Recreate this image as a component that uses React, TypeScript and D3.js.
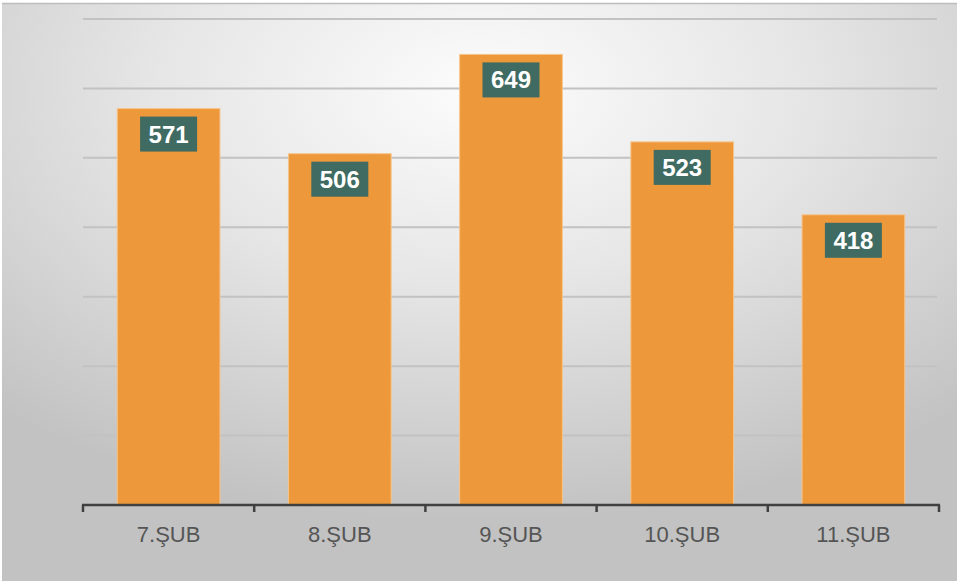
import React from "react";
import * as d3 from "d3";

const categories = ["7.ŞUB", "8.ŞUB", "9.ŞUB", "10.ŞUB", "11.ŞUB"];
const values = [571, 506, 649, 523, 418];
const yTicks = [0, 100, 200, 300, 400, 500, 600, 700];

const W = 960;
const H = 585;
const M = { left: 83, right: 21, top: 19, bottom: 80 };

export default function App() {
  const x = d3
    .scaleBand<string>()
    .domain(categories)
    .range([M.left, W - M.right])
    .paddingInner(0.4)
    .paddingOuter(0.2);
  const y = d3.scaleLinear().domain([0, 700]).range([H - M.bottom, M.top]);
  const y0 = y(0);
  const bounds = categories.map((c) => (x(c) as number) - (x.step() - x.bandwidth()) / 2);
  bounds.push(W - M.right);

  return (
    <svg
      width={W}
      height={H}
      style={{ position: "absolute", left: 0, top: 0, fontFamily: "'Liberation Sans', Arial, sans-serif" }}
    >
      <defs>
        <radialGradient id="bg" cx="50%" cy="15%" r="75%" fx="50%" fy="15%">
          <stop offset="0%" stopColor="#fcfcfc" />
          <stop offset="45%" stopColor="#e6e6e6" />
          <stop offset="100%" stopColor="#c2c2c2" />
        </radialGradient>
      </defs>
      <rect x={0} y={0} width={W} height={H} fill="#ffffff" />
      <rect x={2} y={3} width={955} height={578} fill="url(#bg)" />
      <line x1={2} x2={957} y1={3.5} y2={3.5} stroke="#bdbdbd" strokeWidth={1.5} />
      {yTicks.slice(1).map((t) => (
        <line key={t} x1={M.left} x2={W - M.right - 2} y1={y(t)} y2={y(t)} stroke="#c2c2c2" strokeWidth={2} />
      ))}
      {categories.map((c, i) => {
        const bx = x(c) as number;
        const by = y(values[i]);
        return (
          <g key={c}>
            <rect
              x={bx}
              y={by}
              width={x.bandwidth()}
              height={y0 - by}
              fill="#ED983A"
              stroke="#f6c58c"
              strokeWidth={1}
            />
            <rect x={bx + x.bandwidth() / 2 - 28.5} y={by + 8} width={57} height={35} fill="#3F6B62" />
            <text
              x={bx + x.bandwidth() / 2}
              y={by + 34}
              textAnchor="middle"
              fill="#ffffff"
              fontSize={24}
              fontWeight="bold"
            >
              {values[i]}
            </text>
            <text x={bx + x.bandwidth() / 2} y={542} textAnchor="middle" fill="#555555" fontSize={22}>
              {c}
            </text>
          </g>
        );
      })}
      <line x1={M.left - 1} x2={W - M.right + 1} y1={y0} y2={y0} stroke="#404040" strokeWidth={2.5} />
      {bounds.map((b, i) => (
        <line key={i} x1={b} x2={b} y1={y0} y2={y0 + 7} stroke="#404040" strokeWidth={2.5} />
      ))}
    </svg>
  );
}
